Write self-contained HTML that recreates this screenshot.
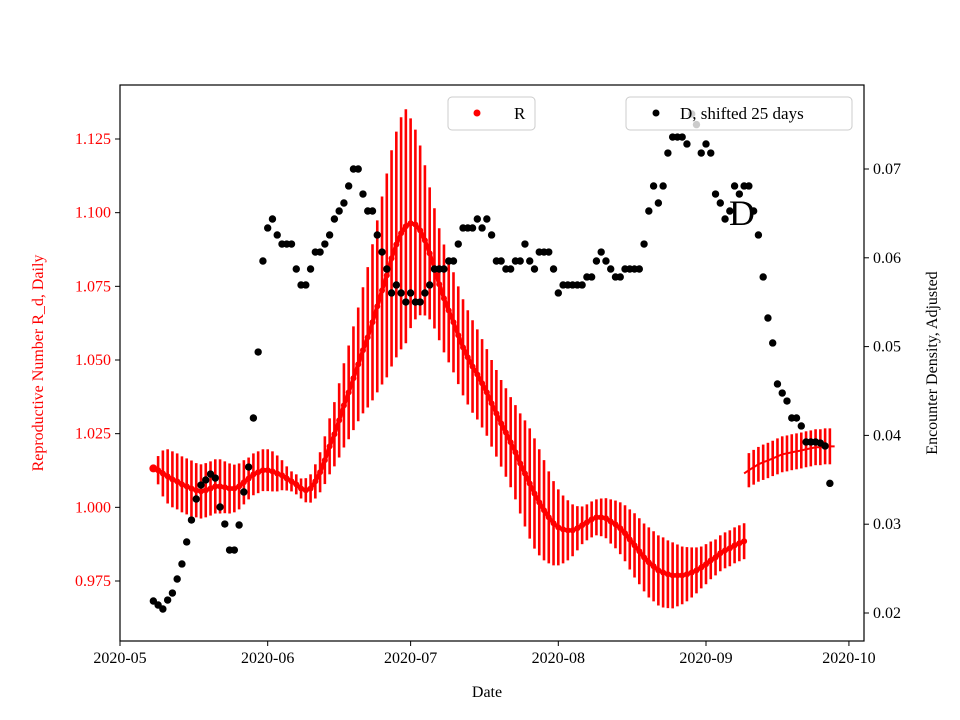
<!DOCTYPE html>
<html><head><meta charset="utf-8">
<style>
html,body{margin:0;padding:0;background:#fff;}
svg{display:block;font-family:"Liberation Serif","DejaVu Serif",serif;}
</style></head>
<body>
<svg id="chart" width="960" height="720" viewBox="0 0 960 720" xmlns="http://www.w3.org/2000/svg">
  <rect x="0" y="0" width="960" height="720" fill="#fff"/>
  <g id="redLayer"></g>
  <g id="blackLayer"></g>
  <g id="axesLayer"></g>
  <text x="742" y="225" font-size="36" text-anchor="middle" fill="#000">D</text>
  <g>
    <rect x="448" y="97" width="87" height="33" rx="4" fill="#fff" fill-opacity="0.8" stroke="#ccc" stroke-width="1"/>
    <circle cx="477" cy="113" r="3.5" fill="#ff0000"/>
    <text x="514" y="119" font-size="17" fill="#000">R</text>
  </g>
  <g>
    <rect x="626" y="97" width="226" height="33" rx="4" fill="#fff" fill-opacity="0.8" stroke="#ccc" stroke-width="1"/>
    <circle cx="656" cy="113" r="3.5" fill="#000"/>
    <text x="680" y="119" font-size="17" fill="#000">D, shifted 25 days</text>
  </g>
  <text x="487" y="697" font-size="16" text-anchor="middle">Date</text>
  <text transform="translate(43,363) rotate(-90)" font-size="16" text-anchor="middle" fill="#ff0000">Reproductive Number R_d, Daily</text>
  <text transform="translate(937,363) rotate(-90)" font-size="16" text-anchor="middle" fill="#000">Encounter Density, Adjusted</text>
</svg>
<script>
// ---- data ----
const xTickDays = [0, 31, 61, 92, 123, 153];
const xTickLabels = ["2020-05","2020-06","2020-07","2020-08","2020-09","2020-10"];
const leftTicks = [0.975, 1.000, 1.025, 1.050, 1.075, 1.100, 1.125];
const leftTickLabels = ["0.975","1.000","1.025","1.050","1.075","1.100","1.125"];
const rightTicks = [0.02, 0.03, 0.04, 0.05, 0.06, 0.07];
const rightTickLabels = ["0.02","0.03","0.04","0.05","0.06","0.07"];

const rStartDay = 7;
const rValues = [1.0132,1.0126,1.0115,1.0105,1.0095,1.0088,1.0078,1.0071,1.0064,1.0058,1.0054,1.0058,1.0064,1.0071,1.0071,1.0068,1.0064,1.0064,1.0071,
1.0085,1.0098,1.0112,1.0119,1.0126,1.0126,1.0122,1.0115,1.0109,1.0098,1.0088,1.0078,1.0064,1.0058,1.0064,1.0088,1.0119,1.0160,1.0207,1.0248,1.0295,1.0346,1.0390,
1.0438,1.0485,1.0533,1.0577,1.0628,1.0682,1.0736,1.0787,1.0845,1.0892,1.0930,1.0954,1.0964,1.0960,1.0940,1.0906,1.0862,1.0811,1.0757,1.0709,1.0668,1.0628,1.0584,1.0543,1.0509,1.0478,1.0451,1.0421,1.0390,1.0353,1.0319,1.0285,1.0254,1.0221,1.0187,1.0149,1.0115,1.0081,1.0047,1.0017,0.9990,0.9966,0.9946,0.9932,0.9925,0.9922,0.9922,0.9929,0.9939,0.9949,0.9959,0.9966,0.9966,0.9963,0.9952,0.9942,0.9929,0.9912,0.9891,0.9871,0.9851,0.9830,0.9813,0.9800,0.9786,0.9779,0.9773,0.9769,0.9769,0.9769,0.9773,0.9779,0.9786,0.9796,0.9807,0.9820,0.9830,0.9844,0.9854,0.9861,0.9871,0.9878,0.9885];
const rErrors = [0,0.0048,0.0078,0.0092,0.0095,0.0095,0.0095,0.0095,0.0095,0.0092,0.0092,0.0092,0.0092,0.0092,0.0092,0.0088,0.0085,0.0081,0.0078,0.0075,0.0071,0.0071,0.0071,0.0071,0.0071,0.0068,0.0061,0.0051,0.0041,0.0034,0.0034,0.0034,0.0041,0.0048,0.0058,0.0068,0.0081,0.0095,0.0109,0.0126,0.0143,0.0159,
0.0176,0.0193,0.0214,0.0238,0.0265,0.0292,0.0319,0.0346,0.0367,0.0383,0.0394,0.0397,0.0356,0.0322,0.0288,0.0255,0.0224,0.0204,0.0190,0.0183,0.0176,0.0170,0.0166,0.0163,0.0160,0.0157,0.0153,0.0150,0.0147,0.0147,0.0147,0.0147,0.0150,0.0153,0.0160,0.0170,0.0180,0.0187,0.0187,0.0180,0.0170,0.0156,0.0143,0.0129,0.0115,0.0102,0.0088,0.0075,0.0064,0.0061,0.0061,0.0061,0.0064,0.0068,0.0075,0.0081,0.0088,0.0095,0.0102,0.0109,0.0112,0.0115,0.0119,0.0119,0.0119,0.0119,0.0115,0.0112,0.0105,0.0098,0.0092,0.0085,0.0078,0.0071,0.0068,0.0064,0.0061,0.0061,0.0061,0.0061,0.0061,0.0061,0.0061];

const r2StartDay = 131;
const r2Values = [1.0115,1.0126,1.0136,1.0146,1.0153,1.0159,1.0166,1.0173,1.0180,1.0183,1.0187,1.0190,1.0193,1.0197,1.0200,1.0204,1.0204,1.0207,1.0207,1.0207];
const r2Errors = [0,0.0058,0.0059,0.0059,0.0060,0.0060,0.0060,0.0061,0.0061,0.0061,0.0061,0.0061,0.0061,0.0061,0.0061,0.0061,0.0061,0.0061,0.0061,0];

const dStartDay = 7;
const dValues = [0.02135,0.0209,0.02045,0.02146,0.02225,0.02383,0.02552,0.028,0.03047,0.03284,0.03441,0.03498,0.03565,0.0352,0.03194,0.03002,0.02709,0.02709,0.02991,0.03363,0.03644,0.04196,0.04939,0.05964,0.06336,0.06437,0.06257,0.06155,0.06155,0.06155,0.05874,0.05694,0.05694,0.05874,0.06065,0.06065,0.06155,0.06257,0.06437,0.06527,0.06617,0.06809,0.07,0.07,0.06718,0.06527,0.06527,0.06257,0.06065,0.05874,0.05604,0.05694,0.05604,0.05502,0.05604,0.05502,0.05502,0.05604,0.05694,0.05874,0.05874,0.05874,0.05964,0.05964,0.06155,0.06336,0.06336,0.06336,0.06437,0.06336,0.06437,0.06257,0.05964,0.05964,0.05874,0.05874,0.05964,0.05964,0.06155,0.05964,0.05874,0.06065,0.06065,0.06065,0.05874,0.05604,0.05694,0.05694,0.05694,0.05694,0.05694,0.05784,0.05784,0.05964,0.06065,0.05964,0.05874,0.05784,0.05784,0.05874,0.05874,0.05874,0.05874,0.06155,0.06527,0.06809,0.06617,0.06809,0.0718,0.0736,0.0736,0.0736,0.07282,0.0762,0.0750,0.0718,0.07282,0.0718,0.06718,0.06617,0.06437,0.06527,0.06809,0.06718,0.06809,0.06809,0.06527,0.06257,0.05784,0.05322,0.05041,0.04579,0.04477,0.04387,0.04196,0.04196,0.04106,0.03926,0.03926,0.03926,0.03914,0.03881,0.0346];

// ---- axes functions ----
const PX0 = 120, PX1 = 864, PY0 = 85, PY1 = 641;
function xDay(d){ return 120 + d * (586 / 123); }
function yL(v){ return 581 - (v - 0.975) * (442 / 0.15); }
function yR(v){ return 613 - (v - 0.02) * 8880; }

const NS = "http://www.w3.org/2000/svg";
function mk(tag, attrs, parent){
  const e = document.createElementNS(NS, tag);
  for (const k in attrs) e.setAttribute(k, attrs[k]);
  parent.appendChild(e);
  return e;
}
const redLayer = document.getElementById('redLayer');
const blackLayer = document.getElementById('blackLayer');
const axesLayer = document.getElementById('axesLayer');

// red series 1: error bars + markers
let pts1 = [];
for (let i = 0; i < rValues.length; i++){
  const x = xDay(rStartDay + i);
  pts1.push(x + ',' + yL(rValues[i]));
  const e = rErrors[i] || 0;
  if (e <= 0) continue;
  const b = mk('line', {x1:x, x2:x, y1:yL(rValues[i]-e), y2:yL(rValues[i]+e), stroke:'#ff0000', 'stroke-width':2.6}, redLayer);
  
  
}
const pl1 = mk('polyline', {points:pts1.join(' '), fill:'none', stroke:'#ff0000', 'stroke-width':4, 'stroke-linejoin':'round'}, redLayer);


for (let i = 0; i < rValues.length; i++){
  const c = mk('circle', {cx:xDay(rStartDay + i), cy:yL(rValues[i]), r:(i===0?4:3), fill:'#ff0000'}, redLayer);
  
  
}
// red series 2: line + error bars
let pts = [];
for (let i = 0; i < r2Values.length; i++){
  const x = xDay(r2StartDay + i);
  pts.push(x + ',' + yL(r2Values[i]));
  const e = r2Errors[i] || 0;
  if (e <= 0) continue;
  const b = mk('line', {x1:x, x2:x, y1:yL(r2Values[i]-e), y2:yL(r2Values[i]+e), stroke:'#ff0000', 'stroke-width':2.6}, redLayer);
  
  
}
const pl = mk('polyline', {points:pts.join(' '), fill:'none', stroke:'#ff0000', 'stroke-width':2}, redLayer);



// black series
for (let i = 0; i < dValues.length; i++){
  const c = mk('circle', {cx:xDay(dStartDay + i), cy:yR(dValues[i]), r:3.7, fill:'#000'}, blackLayer);
  
  
}

// axes frame
const fr = mk('rect', {x:PX0, y:PY0, width:PX1-PX0, height:PY1-PY0, fill:'none', stroke:'#000', 'stroke-width':1.2}, axesLayer);



for (let i = 0; i < xTickDays.length; i++){
  const x = xDay(xTickDays[i]);
  const t = mk('line', {x1:x, x2:x, y1:PY1, y2:PY1+5, stroke:'#000', 'stroke-width':1}, axesLayer);
  
  
  const l = mk('text', {x:x, y:PY1+22, 'font-size':16, 'text-anchor':'middle', fill:'#000'}, axesLayer);
  l.textContent = xTickLabels[i];
  
  
}
for (let i = 0; i < leftTicks.length; i++){
  const y = yL(leftTicks[i]);
  const t = mk('line', {x1:PX0-5, x2:PX0, y1:y, y2:y, stroke:'#000', 'stroke-width':1}, axesLayer);
  
  
  const l = mk('text', {x:PX0-9, y:y+5, 'font-size':16, 'text-anchor':'end', fill:'#ff0000'}, axesLayer);
  l.textContent = leftTickLabels[i];
  
  
}
for (let i = 0; i < rightTicks.length; i++){
  const y = yR(rightTicks[i]);
  const t = mk('line', {x1:PX1, x2:PX1+5, y1:y, y2:y, stroke:'#000', 'stroke-width':1}, axesLayer);
  
  
  const l = mk('text', {x:PX1+9, y:y+5, 'font-size':16, 'text-anchor':'start', fill:'#000'}, axesLayer);
  l.textContent = rightTickLabels[i];
  
  
}
</script>
</body></html>
